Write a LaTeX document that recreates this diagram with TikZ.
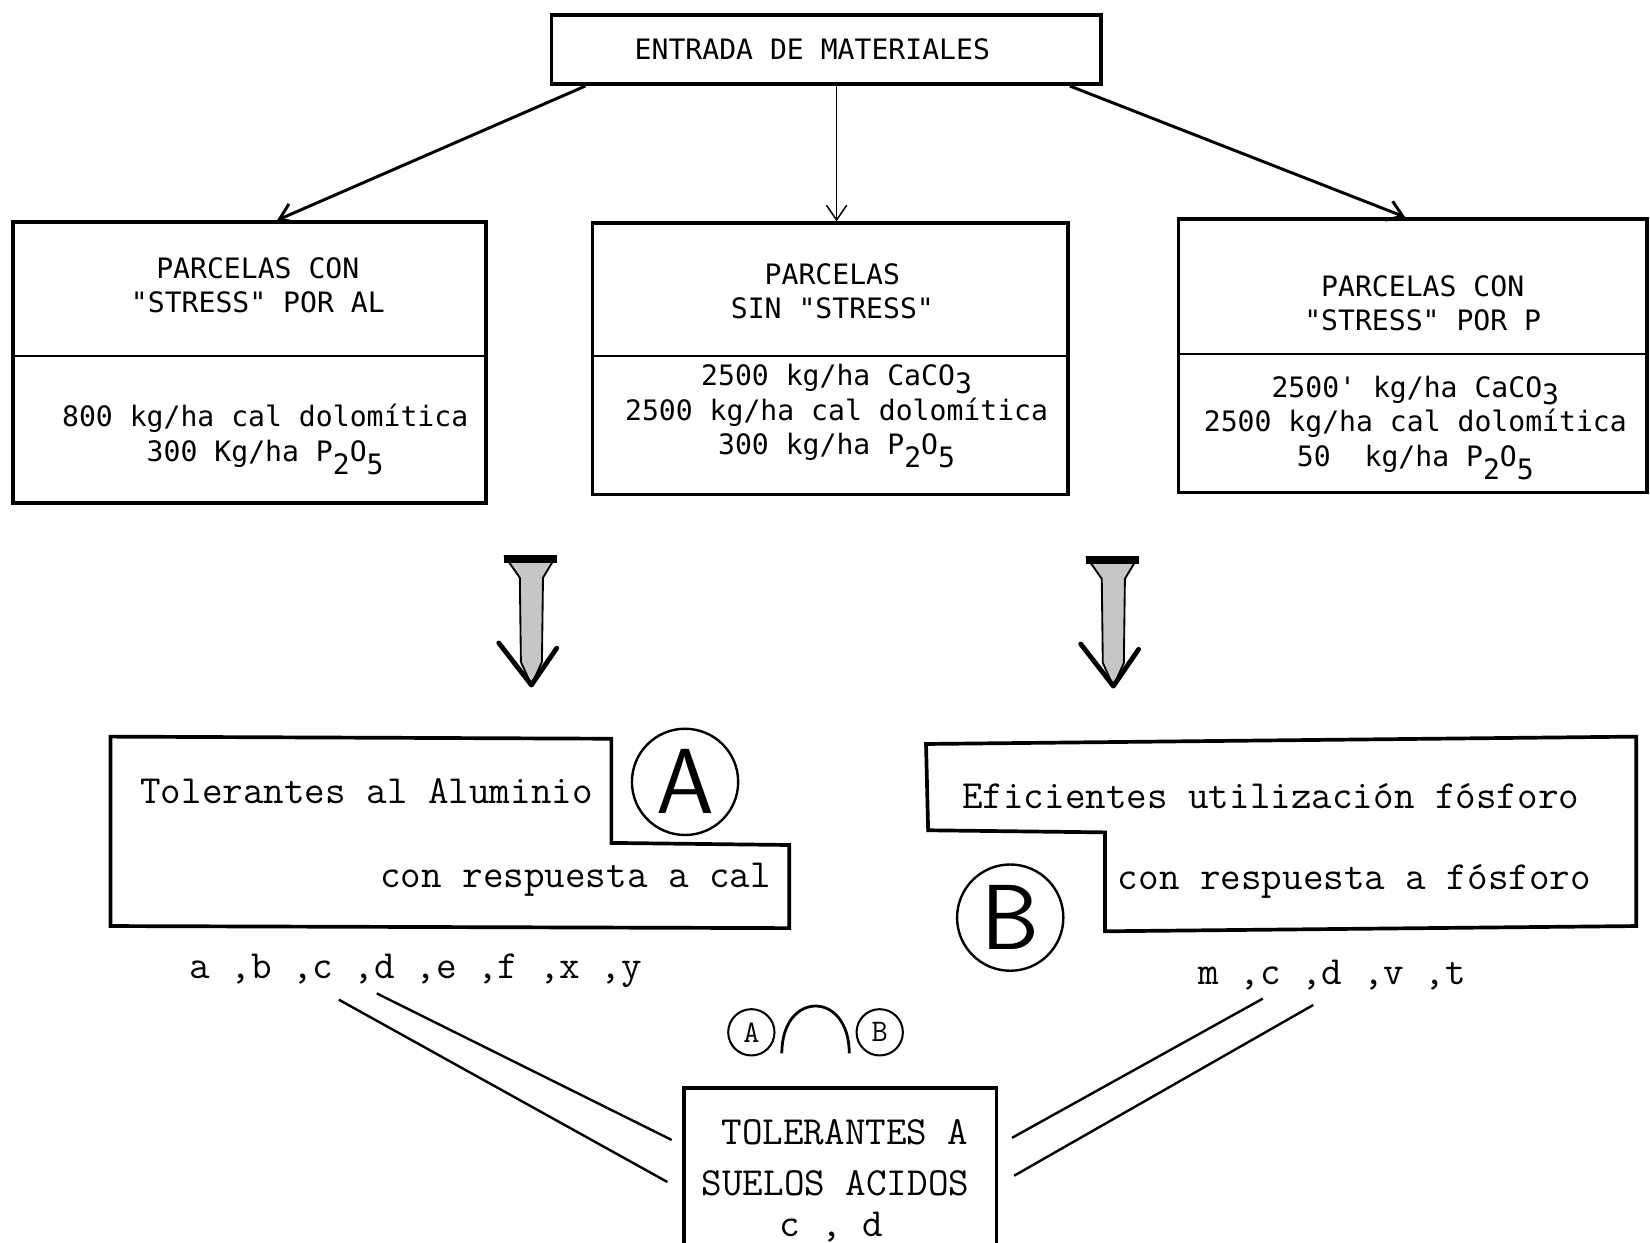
\documentclass[tikz,border=0pt]{standalone}
\usepackage{fontspec}
\newfontfamily\dvmono{DejaVu Sans Mono}
\usetikzlibrary{arrows.meta,calc}
\newcommand\tfnt{\dvmono\fontsize{15.2}{18.6}\selectfont}
\newcommand\bfnt{\ttfamily\fontsize{21.6}{26}\selectfont}
\newcommand\lowdig[2][-7pt]{\smash{\raisebox{#1}{#2}}}
\tikzset{
  box/.style={draw, line width=2pt, inner sep=0pt},
  divline/.style={line width=1.4pt},
  ttxt/.style={font=\tfnt, align=center, inner sep=0pt},
  btxt/.style={font=\bfnt, inner sep=0pt},
  conn/.style={-{Straight Barb[length=8pt,width=11pt]}, line width=1.6pt},
  dbl/.style={line width=1.3pt},
  bigcirc/.style={circle, draw, line width=1.3pt, minimum size=2.02cm, inner sep=0pt, font=\sffamily\fontsize{50}{50}\selectfont},
  smallcirc/.style={circle, draw, line width=1.1pt, minimum size=0.88cm, inner sep=0pt, font=\ttfamily\fontsize{17}{17}\selectfont},
  hollowarrow/.pic={
    \fill[gray!45, draw=black, line width=1pt] (-25,0) -- (23,0) -- (11,20) -- (10,100) -- (0,122) -- (-10,100) -- (-11,20) -- cycle;
    \fill[black] (-26,-2) rectangle (24,6);
    \draw[line width=2.6pt, line cap=round, line join=round] (-31,82) -- (0,122) -- (24,87);
  }
}
\begin{document}
\begin{tikzpicture}[x=0.02cm, y=-0.02cm]
\useasboundingbox (0,0) rectangle (1568,1181);

% top box
\node[box, minimum width=10.44cm, minimum height=1.32cm] (entrada) at (785,47) {};
\node[ttxt] (entradaT) at (772,47) {ENTRADA DE MATERIALES};

% three plot boxes
\node[box, minimum width=9cm, minimum height=5.34cm] (boxL) at (237,344.5) {};
\node[box, minimum width=9.04cm, minimum height=5.16cm] (boxM) at (789,341) {};
\node[box, minimum width=8.9cm, minimum height=5.2cm] (boxR) at (1342.5,338) {};
\draw[divline] ($(boxL.north west)+(0,129)$) -- ($(boxL.north east)+(0,129)$);
\draw[divline] ($(boxM.north west)+(0,128)$) -- ($(boxM.north east)+(0,128)$);
\draw[divline] ($(boxR.north west)+(0,130)$) -- ($(boxR.north east)+(0,130)$);

\node[ttxt] (hL) at (245,271) {PARCELAS CON\\"STRESS" POR AL};
\node[ttxt] (lL) at (252,414) {800 kg/ha cal dolomítica\\300 Kg/ha P\lowdig{2}O\lowdig{5}};
\node[ttxt] (hM) at (791,277) {PARCELAS\\SIN "STRESS"};
\node[ttxt] (lM) at (795,392) {2500 kg/ha CaCO\lowdig[-4pt]{3}\\2500 kg/ha cal dolomítica\\300 kg/ha P\lowdig{2}O\lowdig{5}};
\node[ttxt] (hR) at (1352,288) {PARCELAS CON\\"STRESS" POR P};
\node[ttxt] (lR) at (1345,403) {2500' kg/ha CaCO\lowdig[-4pt]{3}\\2500 kg/ha cal dolomítica\\50\ \ kg/ha P\lowdig{2}O\lowdig{5}};

% connectors from top box
\draw[conn] ($(entrada.south west)+(34,0)$) -- ($(boxL.north west)+(253,0)$);
\draw[conn, line width=0.8pt] ($(entrada.south)+(10,0)$) -- ($(boxM.north)+(6,0)$);
\draw[conn] ($(entrada.south east)+(-31,0)$) -- ($(boxR.north west)+(217,0)$);

% hollow arrows
\pic at (505,529) {hollowarrow};
\pic at (1058,530) {hollowarrow};

% box A
\draw[line width=2pt, line join=miter] (105,700) -- (581,702) -- (581,801) -- (750,803) -- (750,882) -- (105,880) -- cycle;
\node[btxt, anchor=west] (tA1) at (133,752) {Tolerantes al Aluminio};
\node[btxt, anchor=east] (tA2) at (733,836) {con respuesta a cal};
\node[bigcirc] (cA) at (651,743) {A};

% box B
\draw[line width=2pt, line join=miter] (880,707) -- (1555,700) -- (1555,880) -- (1050,885) -- (1050,791) -- (882,789) -- cycle;
\node[btxt, anchor=west] (tB1) at (914,757) {Eficientes utilización fósforo};
\node[btxt, anchor=west] (tB2) at (1062,838) {con respuesta a fósforo};
\node[bigcirc] (cB) at (960,872) {B};

% letter lists
\node[btxt] (lettersA) at (395,922) {a ,b ,c ,d ,e ,f ,x ,y};
\node[btxt] (lettersB) at (1266,927) {m ,c ,d ,v ,t};

% A intersect B
\node[smallcirc] (sA) at (714,981) {A};
\node[smallcirc] (sB) at (836,981) {B};
\draw[line width=1.5pt] ($(sA.east)+(6,20)$) .. controls ($(sA.east)+(6,-40)$) and ($(sB.west)+(-6,-40)$) .. ($(sB.west)+(-6,20)$);

% final box
\node[box, minimum width=5.94cm, minimum height=3.1cm] (final) at (798.5,1111.5) {};
\node[btxt] (fin1) at (803,1076) {TOLERANTES A};
\node[btxt] (fin2) at (794,1124) {SUELOS ACIDOS};
\node[btxt] (fin3) at (790,1166) {c , d};

% double lines
\coordinate (la1) at (322,950);
\coordinate (la2) at (358,944);
\coordinate (lb1) at (1200,949);
\coordinate (lb2) at (1248,955);
\draw[dbl] (la1) -- ($(final.north west)+(-14,91)$);
\draw[dbl] (la2) -- ($(final.north west)+(-10,51)$);
\draw[dbl] (lb1) -- ($(final.north east)+(13,49)$);
\draw[dbl] (lb2) -- ($(final.north east)+(15,85)$);
\end{tikzpicture}
\end{document}
